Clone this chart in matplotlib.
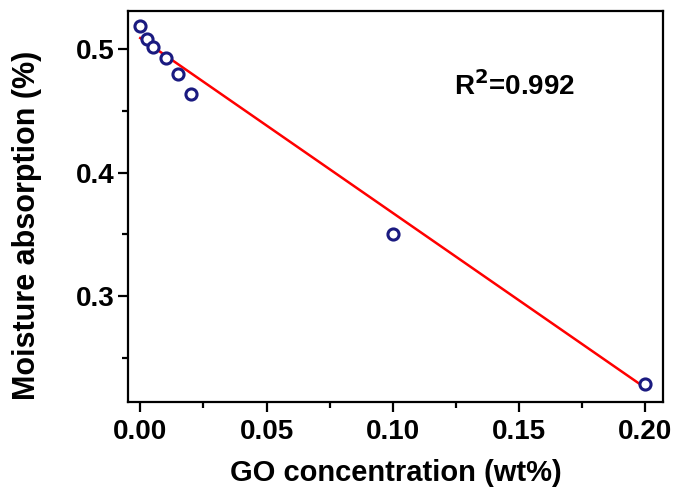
import matplotlib
matplotlib.use("Agg")
import matplotlib.pyplot as plt
import numpy as np
from matplotlib.ticker import MultipleLocator

# data
go_conc = [0.0, 0.0025, 0.005, 0.01, 0.015, 0.02, 0.10, 0.20]
moisture = [0.519, 0.508, 0.502, 0.493, 0.480, 0.464, 0.350, 0.229]
# linear fit as drawn in the reference
fit_intercept = 0.509
fit_slope = -1.4175
fit_range = [0.0, 0.2]
r2_text = "R$^2$=0.992"

plt.rcParams['font.family'] = ['Liberation Sans', 'DejaVu Sans']
plt.rcParams['font.weight'] = 'bold'
plt.rcParams['mathtext.default'] = 'bf'

fig = plt.figure(figsize=(6.78, 4.94), dpi=100)
ax = fig.add_axes([0.189, 0.186, 0.789, 0.792])

xfit = np.array(fit_range)
ax.plot(xfit, fit_slope * xfit + fit_intercept, color='red', lw=1.8, zorder=2)

ax.plot(go_conc, moisture, linestyle='none', marker='o', markersize=8,
        markerfacecolor='white', markeredgecolor='#1a1a80', markeredgewidth=2.2,
        zorder=3)

ax.set_xlim(-0.0048, 0.207)
ax.set_ylim(0.214, 0.531)
ax.xaxis.set_major_locator(MultipleLocator(0.05))
ax.xaxis.set_minor_locator(MultipleLocator(0.025))
ax.yaxis.set_major_locator(MultipleLocator(0.1))
ax.yaxis.set_minor_locator(MultipleLocator(0.05))
ax.xaxis.set_major_formatter(plt.FormatStrFormatter('%.2f'))
ax.yaxis.set_major_formatter(plt.FormatStrFormatter('%.1f'))

for s in ax.spines.values():
    s.set_linewidth(1.6)
ax.tick_params(which='major', direction='out', length=7, width=1.6, labelsize=20)
ax.tick_params(axis='x', which='major', pad=5)
ax.tick_params(axis='y', which='major', pad=3)
ax.tick_params(which='minor', direction='out', length=4, width=1.6)

ax.set_xlabel('GO concentration (wt%)', fontsize=21, fontweight='bold', labelpad=10)
ax.set_ylabel('Moisture absorption (%)', fontsize=22, fontweight='bold')
ax.yaxis.set_label_coords(-0.161, 0.453)

ax.text(0.1483, 0.470, r2_text, fontsize=20, fontweight='bold', ha='center', va='center')

fig.savefig('out.png', dpi=100)
